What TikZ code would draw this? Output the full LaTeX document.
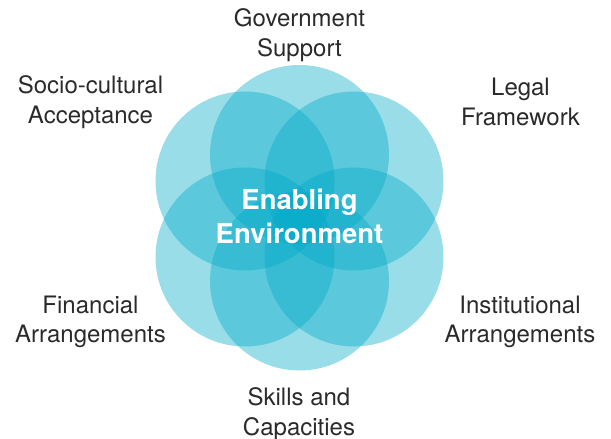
\documentclass[tikz,border=0pt]{standalone}
\usepackage{fontspec}
\setmainfont{TeX Gyre Heros}
\definecolor{petal}{HTML}{00A9C7}
\definecolor{labelgray}{HTML}{2A2A2A}
\begin{document}
\begin{tikzpicture}[x=1pt,y=-1pt,
  petalc/.style={fill=petal,fill opacity=0.4,draw=none},
  lab/.style={text=labelgray,align=center,inner sep=0pt,font=\fontsize{24}{29.5}\selectfont},
  core/.style={text=white,align=center,inner sep=0pt,font=\fontsize{27.5}{34}\selectfont\bfseries}]
\useasboundingbox (0,0) rectangle (611,439);
\fill[petalc] (299.5,154.5) circle (89.5);
\fill[petalc] (354,181) circle (89.5);
\fill[petalc] (354,257) circle (89.5);
\fill[petalc] (299.5,281) circle (89.5);
\fill[petalc] (245,257) circle (89.5);
\fill[petalc] (245,181) circle (89.5);
\node[core] (ee) at (299.5,216.5) {Enabling\\Environment};
\node[lab] (gs) at (299.5,35) {Government\\Support};
\node[lab] (sc) at (90.5,102) {Socio-cultural\\Acceptance};
\node[lab] (lf) at (520.5,102) {Legal\\Framework};
\node[lab] (fa) at (90.5,322) {Financial\\Arrangements};
\node[lab] (ia) at (520,322) {Institutional\\Arrangements};
\node[lab] (sk) at (299,414) {Skills and\\Capacities};
\end{tikzpicture}
\end{document}
